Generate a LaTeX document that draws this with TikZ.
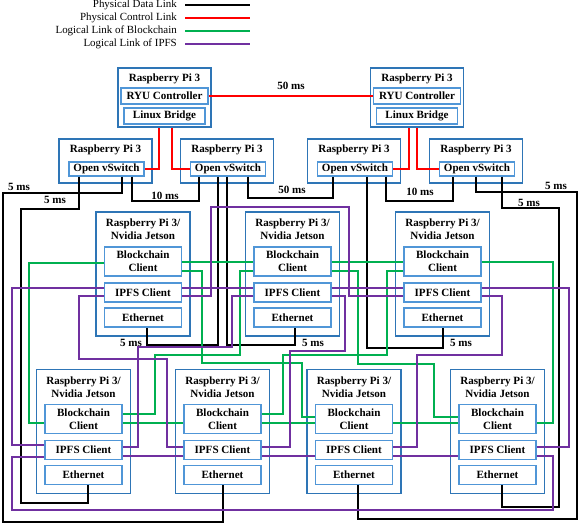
\documentclass[tikz,border=0pt]{standalone}
\usepackage{fontspec}
\setmainfont{Liberation Serif}
\usetikzlibrary{positioning}

\definecolor{piblue}{RGB}{46,117,182}
\definecolor{partblue}{RGB}{80,150,215}
\definecolor{ctrlred}{RGB}{255,0,0}
\definecolor{bcgreen}{RGB}{0,176,80}
\definecolor{ipfspurple}{RGB}{112,48,160}

\newcommand{\pxl}{0.75pt}
\newcommand{\boldtxt}{\fontsize{8.3}{9.75}\selectfont\bfseries}

\tikzset{
  hostbox/.style={draw=piblue, line width=1.4pt, inner sep=0pt},
  partbox/.style={draw=partblue, line width=1pt, fill=white, inner sep=0pt, align=center,
    minimum width=77*\pxl, minimum height=19*\pxl, font=\boldtxt},
  titletxt/.style={inner sep=0pt, align=center, font=\boldtxt},
  lbl/.style={inner sep=0pt, font=\boldtxt},
  legtxt/.style={inner sep=0pt, font=\fontsize{8.2}{9.5}\selectfont},
  datalink/.style={line width=1.1pt, black},
  ctrllink/.style={line width=0.9pt, ctrlred},
  bclink/.style={line width=0.9pt, bcgreen},
  ipfslink/.style={line width=0.9pt, ipfspurple}
}

\begin{document}
\begin{tikzpicture}[x=0.75pt, y=-0.75pt]
  \useasboundingbox (0,0) rectangle (581,525);

  % legend
  \node[legtxt, anchor=east] (leg1) at (177,5) {Physical Data Link};
  \node[legtxt, anchor=east] (leg2) at (177,18) {Physical Control Link};
  \node[legtxt, anchor=east] (leg3) at (177,31) {Logical Link of Blockchain};
  \node[legtxt, anchor=east] (leg4) at (177,44) {Logical Link of IPFS};
  \draw[datalink] ([xshift=6pt]leg1.east) -- ++(65,0);
  \draw[ctrllink] ([xshift=6pt]leg2.east) -- ++(65,0);
  \draw[bclink] ([xshift=6pt]leg3.east) -- ++(65,0);
  \draw[ipfslink] ([xshift=6pt]leg4.east) -- ++(65,0);

  % controllers
  \foreach \nm/\cx in {c1/164.5, c2/417} {
    \node[hostbox, minimum width=93*\pxl, minimum height=59*\pxl] (\nm) at (\cx,97.5) {};
    \node[titletxt] (\nm-t) at (\cx,79) {Raspberry Pi 3};
    \node[partbox, minimum width=87*\pxl, minimum height=16*\pxl] (\nm-ryu) at (\cx,96) {RYU Controller};
    \node[partbox, minimum width=81*\pxl, minimum height=16*\pxl] (\nm-lb) at (\cx,116) {Linux Bridge};
  }

  % switches
  \foreach \nm/\cx in {s1/105.5, s2/227, s3/354, s4/476} {
    \node[hostbox, minimum width=93*\pxl, minimum height=44*\pxl] (\nm) at (\cx,161) {};
    \node[titletxt] (\nm-t) at (\cx,150) {Raspberry Pi 3};
    \node[partbox, minimum width=75*\pxl, minimum height=14*\pxl] (\nm-ovs) at ({\cx+1},169) {Open vSwitch};
  }

  % pi / jetson hosts
  \foreach \nm/\cx/\cy in {m1/143/274, m2/292.5/274, m3/442.5/274,
      b1/83.5/431.5, b2/222.5/431.5, b3/354/431.5, b4/497.5/431.5} {
    \node[hostbox, minimum width=94*\pxl, minimum height=124*\pxl] (\nm) at (\cx,\cy) {};
    \node[titletxt] (\nm-t) at (\cx,{\cy-44.5}) {Raspberry Pi 3/\\Nvidia Jetson};
    \node[partbox, minimum height=29*\pxl] (\nm-bc) at (\cx,{\cy-12.5}) {Blockchain\\Client};
    \node[partbox] (\nm-ipfs) at (\cx,{\cy+18.5}) {IPFS Client};
    \node[partbox] (\nm-eth) at (\cx,{\cy+43.5}) {Ethernet};
  }

  % control links
  \draw[ctrllink] (c1-ryu.east) -- (c2-ryu.west);
  \node[lbl] (d0) at (291,86) {50 ms};
  \draw[ctrllink] (c1.south -| 159,0) -- (159,169) -- (s1-ovs.east |- 0,169);
  \draw[ctrllink] (c1.south -| 172,0) -- (172,169) -- (s2-ovs.west |- 0,169);
  \draw[ctrllink] (c2.south -| 409,0) -- (409,169) -- (s3-ovs.east |- 0,169);
  \draw[ctrllink] (c2.south -| 417,0) -- (417,169) -- (s4-ovs.west |- 0,169);

  % data links
  \draw[datalink] (s1-ovs.south -| 132,0) -- (132,201) -- (199,201) -- (s2-ovs.south -| 199,0);
  \draw[datalink] (s2-ovs.south -| 248,0) -- (248,198) -- (333,198) -- (s3-ovs.south -| 333,0);
  \draw[datalink] (s3-ovs.south -| 386,0) -- (386,201) -- (453,201) -- (s4-ovs.south -| 453,0);
  \draw[datalink] (s1-ovs.south -| 122,0) -- (122,193) -- (3,193) -- (3,522) -- (223,522) -- (b2-eth.south -| 223,0);
  \draw[datalink] (s1-ovs.south -| 79,0) -- (79,209) -- (21,209) -- (21,503) -- (88,503) -- (b1-eth.south -| 88,0);
  \draw[datalink] (s4-ovs.south -| 476,0) -- (476,192) -- (577,192) -- (577,519) -- (358,519) -- (b3-eth.south -| 358,0);
  \draw[datalink] (s4-ovs.south -| 502,0) -- (502,208) -- (559,208) -- (559,507) -- (502,507) -- (b4-eth.south -| 502,0);
  \draw[datalink] (s2-ovs.south -| 218,0) -- (218,345) -- (147,345) -- (m1-eth.south -| 147,0);
  \draw[datalink] (s2-ovs.south -| 227,0) -- (227,345) -- (295,345) -- (m2-eth.south -| 295,0);
  \draw[datalink] (s3-ovs.south -| 367,0) -- (367,348) -- (443,348) -- (m3-eth.south -| 443,0);
  \node[lbl] (d1) at (165,196) {10 ms};
  \node[lbl] (d2) at (292,190) {50 ms};
  \node[lbl] (d3) at (420,192) {10 ms};
  \node[lbl] (d4) at (19,187) {5 ms};
  \node[lbl] (d5) at (55,200) {5 ms};
  \node[lbl] (d6) at (556,186) {5 ms};
  \node[lbl] (d7) at (529,203) {5 ms};
  \node[lbl] (d8) at (131,343) {5 ms};
  \node[lbl] (d9) at (313,343) {5 ms};
  \node[lbl] (d10) at (461,343) {5 ms};

  % blockchain links
  \draw[bclink] (m1-bc.west |- 0,263) -- (29,263) -- (29,423) -- (b1-bc.west |- 0,423);
  \draw[bclink] (m1-bc.east |- 0,262) -- (m2-bc.west |- 0,262);
  \draw[bclink] (m1-bc.east |- 0,271) -- (202,271) -- (202,363) -- (302,363) -- (302,417) -- (b3-bc.west |- 0,417);
  \draw[bclink] (m2-bc.west |- 0,271) -- (240,271) -- (240,355) -- (155,355) -- (155,414) -- (b1-bc.east |- 0,414);
  \draw[bclink] (m2-bc.east |- 0,262) -- (m3-bc.west |- 0,262);
  \draw[bclink] (m2-bc.east |- 0,271) -- (358,271) -- (358,364) -- (434,364) -- (434,417) -- (b4-bc.west |- 0,417);
  \draw[bclink] (m3-bc.west |- 0,271) -- (387,271) -- (387,355) -- (283,355) -- (283,414) -- (b2-bc.east |- 0,414);
  \draw[bclink] (m3-bc.east |- 0,262) -- (553,262) -- (553,423) -- (b4-bc.east |- 0,423);
  \draw[bclink] (b1-bc.east |- 0,423) -- (b2-bc.west |- 0,423);
  \draw[bclink] (b2-bc.east |- 0,423) -- (b3-bc.west |- 0,423);
  \draw[bclink] (b3-bc.east |- 0,423) -- (b4-bc.west |- 0,423);

  % ipfs links
  \draw[ipfslink] (m1-ipfs.west |- 0,288) -- (12,288) -- (12,445) -- (b1-ipfs.west |- 0,445);
  \draw[ipfslink] (m1-ipfs.west |- 0,296) -- (79,296) -- (79,359) -- (167,359) -- (167,447) -- (b2-ipfs.west |- 0,447);
  \draw[ipfslink] (m1-ipfs.east |- 0,288) -- (m2-ipfs.west |- 0,288);
  \draw[ipfslink] (m1-ipfs.east |- 0,296) -- (211,296) -- (211,207) -- (349,207) -- (349,296) -- (m3-ipfs.west |- 0,296);
  \draw[ipfslink] (m2-ipfs.west |- 0,296) -- (232,296) -- (232,347) -- (138,347) -- (138,447) -- (b1-ipfs.east |- 0,447);
  \draw[ipfslink] (m2-ipfs.east |- 0,288) -- (m3-ipfs.west |- 0,288);
  \draw[ipfslink] (m2-ipfs.east |- 0,296) -- (345,296) -- (345,351) -- (290,351) -- (290,447) -- (b2-ipfs.east |- 0,447);
  \draw[ipfslink] (m3-ipfs.east |- 0,288) -- (569,288) -- (569,447) -- (b4-ipfs.east |- 0,447);
  \draw[ipfslink] (m3-ipfs.east |- 0,296) -- (502,296) -- (502,355) -- (417,355) -- (417,447) -- (b3-ipfs.east |- 0,447);
  \draw[ipfslink] (b1-ipfs.east |- 0,456) -- (b2-ipfs.west |- 0,456);
  \draw[ipfslink] (b2-ipfs.east |- 0,456) -- (b3-ipfs.west |- 0,456);
  \draw[ipfslink] (b3-ipfs.east |- 0,456) -- (b4-ipfs.west |- 0,456);
  \draw[ipfslink] (b4-ipfs.east |- 0,456) -- (553,456) -- (553,510) -- (12,510) -- (12,457) -- (b1-ipfs.west |- 0,457);
\end{tikzpicture}
\end{document}
